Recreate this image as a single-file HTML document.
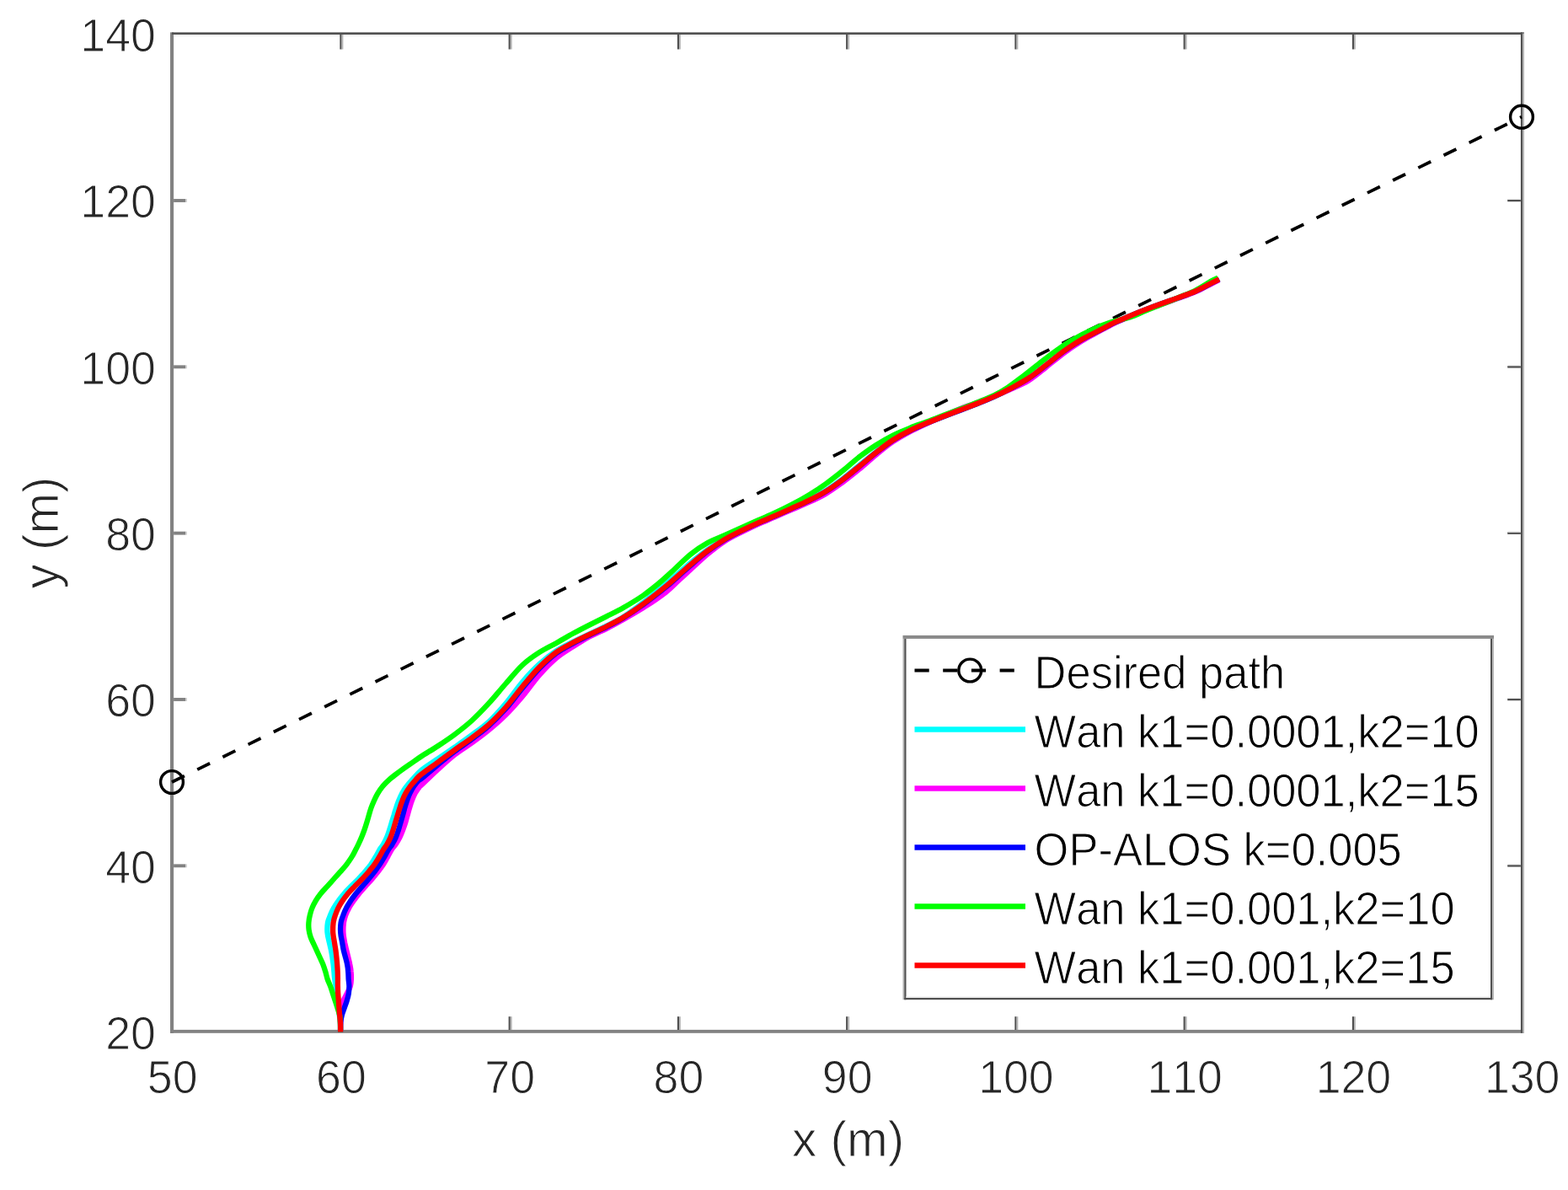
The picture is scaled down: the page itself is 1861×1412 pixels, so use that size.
<!DOCTYPE html>
<html lang="en">
<head>
<meta charset="utf-8">
<title>Path following comparison</title>
<style>
html,body{margin:0;padding:0;background:#fff;}
body{width:1861px;height:1412px;overflow:hidden;}
svg{display:block;}
text{font-family:"Liberation Sans",Arial,Helvetica,sans-serif;fill:#262626;font-kerning:none;font-variant-ligatures:none;stroke:#fff;stroke-width:1.0px;stroke-linejoin:round;}
.tk{font-size:53.7px;}
.lb{font-size:58.5px;}
text.lg{font-size:52.5px;fill:#000;}
</style>
</head>
<body>
<svg width="1861" height="1412" viewBox="0 0 1861 1412">
<rect x="0" y="0" width="1861" height="1412" fill="#ffffff"/>
<g>
<rect x="202.00" y="38.40" width="4.10" height="1187.60" fill="#828282"/><rect x="202.00" y="1221.90" width="1607.00" height="3.90" fill="#828282"/><rect x="204.00" y="38.40" width="1605.00" height="2.60" fill="#505050"/><rect x="206.10" y="41.00" width="1599.00" height="1.90" fill="#ededed"/><rect x="1804.90" y="38.40" width="2.20" height="1187.40" fill="#505050"/><rect x="1807.10" y="39.50" width="1.90" height="1186.30" fill="#b4b4b4"/>
<rect x="403.35" y="1206.20" width="2.20" height="15.80" fill="#505050"/><rect x="405.55" y="1206.20" width="1.80" height="15.80" fill="#b4b4b4"/><rect x="403.35" y="41.00" width="2.20" height="17.50" fill="#505050"/><rect x="405.55" y="41.00" width="1.80" height="17.50" fill="#b4b4b4"/><rect x="603.60" y="1206.20" width="2.20" height="15.80" fill="#505050"/><rect x="605.80" y="1206.20" width="1.80" height="15.80" fill="#b4b4b4"/><rect x="603.60" y="41.00" width="2.20" height="17.50" fill="#505050"/><rect x="605.80" y="41.00" width="1.80" height="17.50" fill="#b4b4b4"/><rect x="803.85" y="1206.20" width="2.20" height="15.80" fill="#505050"/><rect x="806.05" y="1206.20" width="1.80" height="15.80" fill="#b4b4b4"/><rect x="803.85" y="41.00" width="2.20" height="17.50" fill="#505050"/><rect x="806.05" y="41.00" width="1.80" height="17.50" fill="#b4b4b4"/><rect x="1004.10" y="1206.20" width="2.20" height="15.80" fill="#505050"/><rect x="1006.30" y="1206.20" width="1.80" height="15.80" fill="#b4b4b4"/><rect x="1004.10" y="41.00" width="2.20" height="17.50" fill="#505050"/><rect x="1006.30" y="41.00" width="1.80" height="17.50" fill="#b4b4b4"/><rect x="1204.35" y="1206.20" width="2.20" height="15.80" fill="#505050"/><rect x="1206.55" y="1206.20" width="1.80" height="15.80" fill="#b4b4b4"/><rect x="1204.35" y="41.00" width="2.20" height="17.50" fill="#505050"/><rect x="1206.55" y="41.00" width="1.80" height="17.50" fill="#b4b4b4"/><rect x="1404.60" y="1206.20" width="2.20" height="15.80" fill="#505050"/><rect x="1406.80" y="1206.20" width="1.80" height="15.80" fill="#b4b4b4"/><rect x="1404.60" y="41.00" width="2.20" height="17.50" fill="#505050"/><rect x="1406.80" y="41.00" width="1.80" height="17.50" fill="#b4b4b4"/><rect x="1604.85" y="1206.20" width="2.20" height="15.80" fill="#505050"/><rect x="1607.05" y="1206.20" width="1.80" height="15.80" fill="#b4b4b4"/><rect x="1604.85" y="41.00" width="2.20" height="17.50" fill="#505050"/><rect x="1607.05" y="41.00" width="1.80" height="17.50" fill="#b4b4b4"/>
<rect x="206.10" y="1025.37" width="14.20" height="3.90" fill="#828282"/><rect x="220.30" y="1025.37" width="1.50" height="3.90" fill="#c8c8c8"/><rect x="1789.20" y="1026.17" width="15.70" height="2.40" fill="#505050"/><rect x="1790.00" y="1024.77" width="14.90" height="1.40" fill="#ededed"/><rect x="206.10" y="828.03" width="14.20" height="3.90" fill="#828282"/><rect x="220.30" y="828.03" width="1.50" height="3.90" fill="#c8c8c8"/><rect x="1789.20" y="828.83" width="15.70" height="2.40" fill="#505050"/><rect x="1790.00" y="827.43" width="14.90" height="1.40" fill="#ededed"/><rect x="206.10" y="630.70" width="14.20" height="3.90" fill="#828282"/><rect x="220.30" y="630.70" width="1.50" height="3.90" fill="#c8c8c8"/><rect x="1789.20" y="631.50" width="15.70" height="2.40" fill="#505050"/><rect x="1790.00" y="630.10" width="14.90" height="1.40" fill="#ededed"/><rect x="206.10" y="433.37" width="14.20" height="3.90" fill="#828282"/><rect x="220.30" y="433.37" width="1.50" height="3.90" fill="#c8c8c8"/><rect x="1789.20" y="434.17" width="15.70" height="2.40" fill="#505050"/><rect x="1790.00" y="432.77" width="14.90" height="1.40" fill="#ededed"/><rect x="206.10" y="236.03" width="14.20" height="3.90" fill="#828282"/><rect x="220.30" y="236.03" width="1.50" height="3.90" fill="#c8c8c8"/><rect x="1789.20" y="236.83" width="15.70" height="2.40" fill="#505050"/><rect x="1790.00" y="235.43" width="14.90" height="1.40" fill="#ededed"/>
</g>
<g fill="none" stroke-width="6.3" stroke-linejoin="round" stroke-linecap="butt">
<path d="M204.0 928.0L1806.0 138.7" stroke="#000" stroke-width="3.8" stroke-dasharray="16.65 17.005"/>
<path d="M404.1 1224.5C404.0 1222.6 404.0 1216.5 403.7 1213.2C403.5 1209.9 403.1 1207.5 402.8 1204.6C402.5 1201.7 402.3 1198.9 402.0 1196.0C401.7 1193.1 401.5 1190.3 401.1 1187.4C400.8 1184.5 400.4 1181.7 400.0 1178.8C399.5 1175.9 399.1 1173.1 398.6 1170.2C398.1 1167.3 397.5 1164.5 397.2 1161.6C396.8 1158.7 396.7 1155.9 396.4 1153.0C396.2 1150.1 395.9 1147.3 395.6 1144.4C395.2 1141.5 394.8 1138.7 394.4 1135.8C393.9 1132.9 393.5 1130.1 392.9 1127.2C392.3 1124.3 391.7 1122.0 390.9 1118.6C390.2 1115.2 388.8 1110.6 388.5 1106.6C388.2 1102.6 388.4 1098.0 389.0 1094.6C389.6 1091.2 390.8 1088.9 392.0 1086.0C393.2 1083.1 394.4 1080.3 396.1 1077.4C397.7 1074.5 399.6 1071.7 401.7 1068.8C403.7 1065.9 406.0 1063.1 408.5 1060.2C411.0 1057.3 413.8 1054.5 416.7 1051.6C419.5 1048.7 422.6 1045.9 425.4 1043.0C428.1 1040.1 430.7 1037.3 433.2 1034.4C435.6 1031.5 438.0 1028.7 440.1 1025.8C442.1 1022.9 443.8 1020.1 445.5 1017.2C447.3 1014.3 448.8 1011.2 450.3 1008.6C451.9 1006.0 453.4 1004.4 454.9 1001.8C456.4 999.2 458.0 996.1 459.2 993.2C460.4 990.3 461.3 987.5 462.2 984.6C463.2 981.7 464.0 978.9 464.8 976.0C465.7 973.1 466.6 970.3 467.5 967.4C468.3 964.5 469.1 961.7 470.1 958.8C471.0 955.9 471.9 953.1 473.1 950.2C474.3 947.3 475.5 944.5 477.0 941.6C478.6 938.7 480.5 935.7 482.6 933.0C484.6 930.3 486.4 928.4 489.3 925.2C492.2 922.0 494.9 918.1 500.0 913.9C505.1 909.7 513.3 904.7 520.0 900.1C526.7 895.6 533.3 891.1 540.0 886.4C546.7 881.7 553.3 877.1 560.0 872.1C566.7 867.1 573.3 862.7 580.0 856.5C586.7 850.3 593.3 842.9 600.0 835.0C606.7 827.2 613.3 817.0 620.0 809.2C626.7 801.4 633.3 794.3 640.0 788.2C646.7 782.1 653.3 776.9 660.0 772.5C666.7 768.1 673.3 764.9 680.0 761.6C686.7 758.2 693.3 755.4 700.0 752.2C706.7 749.1 713.3 746.0 720.0 742.7C726.7 739.3 732.5 736.7 740.0 731.9C747.5 727.1 756.7 720.1 765.0 713.7C773.3 707.3 783.3 698.8 790.0 693.3C796.7 687.8 800.0 684.7 805.0 680.4C810.0 676.1 814.2 672.1 820.0 667.4C825.8 662.7 833.3 656.7 840.0 652.0C846.7 647.3 853.3 643.1 860.0 639.2C866.7 635.4 873.3 632.2 880.0 629.0C886.7 625.8 893.3 622.8 900.0 619.9C906.7 616.9 913.3 614.2 920.0 611.3C926.7 608.4 933.3 605.5 940.0 602.5C946.7 599.5 953.3 596.5 960.0 593.1C966.7 589.8 973.3 586.4 980.0 582.2C986.7 578.0 993.3 573.2 1000.0 568.2C1006.7 563.1 1013.3 557.4 1020.0 552.0C1026.7 546.6 1033.3 541.0 1040.0 535.9C1046.7 530.8 1053.3 525.6 1060.0 521.4C1066.7 517.2 1073.3 513.8 1080.0 510.5C1086.7 507.2 1093.3 504.6 1100.0 501.9C1106.7 499.1 1113.3 496.6 1120.0 494.0C1126.7 491.4 1133.3 488.9 1140.0 486.4C1146.7 483.9 1153.3 481.4 1160.0 478.8C1166.7 476.2 1173.3 473.5 1180.0 470.5C1186.7 467.5 1193.1 464.3 1200.0 460.6C1206.9 456.9 1214.2 453.1 1221.2 448.5C1228.2 443.9 1235.1 438.1 1242.0 432.8C1248.9 427.5 1255.8 421.5 1262.8 416.5C1269.8 411.5 1276.8 407.0 1284.0 402.8C1291.2 398.6 1299.4 394.8 1305.7 391.5C1312.0 388.2 1316.3 385.7 1322.0 383.0C1327.7 380.3 1333.6 378.0 1339.6 375.5C1345.6 373.0 1351.6 370.4 1358.0 367.9C1364.4 365.4 1371.2 362.9 1377.9 360.5C1384.6 358.1 1391.2 355.9 1398.0 353.4C1404.8 350.9 1412.2 348.5 1419.0 345.5C1425.8 342.5 1433.8 337.9 1438.5 335.5C1443.2 333.1 1445.6 332.0 1447.0 331.3" stroke="#00ffff"/>
<path d="M404.1 1224.5C404.1 1222.6 404.2 1216.5 404.2 1213.2C404.3 1209.9 404.2 1207.5 404.4 1204.6C404.5 1201.7 404.7 1198.9 405.2 1196.0C405.7 1193.1 406.3 1190.3 407.4 1187.4C408.5 1184.5 410.4 1181.7 411.8 1178.8C413.2 1175.9 414.9 1173.1 415.8 1170.2C416.7 1167.3 416.8 1164.5 416.9 1161.6C417.0 1158.7 416.9 1155.9 416.6 1153.0C416.4 1150.1 415.9 1147.3 415.3 1144.4C414.8 1141.5 414.0 1138.7 413.3 1135.8C412.6 1132.9 411.9 1130.1 411.2 1127.2C410.5 1124.3 409.9 1122.0 409.2 1118.6C408.6 1115.2 407.7 1110.6 407.5 1106.6C407.3 1102.6 407.6 1098.0 408.0 1094.6C408.5 1091.2 409.2 1088.9 410.2 1086.0C411.2 1083.1 412.6 1080.3 414.2 1077.4C415.7 1074.5 417.8 1071.7 419.8 1068.8C421.8 1065.9 423.9 1063.1 426.2 1060.2C428.5 1057.3 431.2 1054.5 433.8 1051.6C436.4 1048.7 439.2 1045.9 441.6 1043.0C444.1 1040.1 446.4 1037.3 448.7 1034.4C450.9 1031.5 453.0 1028.7 454.9 1025.8C456.7 1022.9 458.2 1020.1 459.9 1017.2C461.5 1014.3 462.9 1011.2 464.5 1008.6C466.1 1006.0 468.0 1004.4 469.7 1001.8C471.4 999.2 473.3 996.1 474.7 993.2C476.1 990.3 477.1 987.5 478.2 984.6C479.3 981.7 480.3 978.9 481.2 976.0C482.1 973.1 482.8 970.3 483.6 967.4C484.4 964.5 485.1 961.7 486.0 958.8C486.9 955.9 487.7 953.1 488.8 950.2C489.9 947.3 491.0 944.5 492.5 941.6C494.1 938.7 496.2 935.7 498.3 933.0C500.4 930.3 505.0 925.4 505.3 925.2C505.6 925.0 497.5 933.7 500.0 931.7C502.5 929.6 513.3 918.8 520.0 912.7C526.7 906.6 533.3 900.5 540.0 895.3C546.7 890.1 553.3 886.3 560.0 881.5C566.7 876.7 573.3 871.9 580.0 866.4C586.7 860.9 593.3 855.3 600.0 848.6C606.7 842.0 613.3 834.4 620.0 826.5C626.7 818.6 633.3 808.8 640.0 801.2C646.7 793.6 653.3 786.7 660.0 781.1C666.7 775.5 673.3 771.7 680.0 767.4C686.7 763.1 693.3 758.9 700.0 755.3C706.7 751.7 713.3 749.1 720.0 745.8C726.7 742.4 732.5 739.2 740.0 735.0C747.5 730.8 756.7 725.6 765.0 720.2C773.3 714.9 783.3 708.1 790.0 702.9C796.7 697.7 800.0 693.8 805.0 689.2C810.0 684.7 814.2 680.8 820.0 675.5C825.8 670.2 833.3 663.0 840.0 657.4C846.7 651.9 853.3 646.6 860.0 642.3C866.7 638.0 873.3 634.9 880.0 631.5C886.7 628.1 893.3 624.9 900.0 621.9C906.7 618.9 913.3 616.2 920.0 613.3C926.7 610.4 933.3 607.4 940.0 604.5C946.7 601.6 953.3 599.1 960.0 596.0C966.7 593.0 973.3 590.0 980.0 586.0C986.7 582.0 993.3 577.2 1000.0 572.4C1006.7 567.5 1013.3 562.1 1020.0 556.6C1026.7 551.1 1033.3 544.9 1040.0 539.5C1046.7 534.1 1053.3 528.5 1060.0 524.0C1066.7 519.5 1073.3 515.8 1080.0 512.2C1086.7 508.7 1093.3 505.8 1100.0 502.7C1106.7 499.6 1113.3 496.6 1120.0 493.7C1126.7 490.8 1133.3 487.7 1140.0 485.0C1146.7 482.3 1153.3 480.2 1160.0 477.7C1166.7 475.1 1173.3 472.4 1180.0 469.7C1186.7 467.0 1193.1 464.7 1200.0 461.6C1206.9 458.5 1214.2 455.7 1221.2 451.3C1228.2 446.9 1235.1 440.8 1242.0 435.4C1248.9 430.0 1255.8 424.1 1262.8 418.9C1269.8 413.8 1276.8 408.9 1284.0 404.5C1291.2 400.1 1299.4 396.1 1305.7 392.6C1312.0 389.2 1316.3 386.7 1322.0 383.9C1327.7 381.2 1333.6 378.8 1339.6 376.2C1345.6 373.7 1351.6 371.0 1358.0 368.5C1364.4 366.0 1371.2 363.6 1377.9 361.2C1384.6 358.8 1391.2 356.6 1398.0 354.1C1404.8 351.6 1412.2 349.2 1419.0 346.2C1425.8 343.3 1433.8 338.6 1438.5 336.3C1443.2 333.9 1445.6 332.8 1447.0 332.1" stroke="#ff00ff"/>
<path d="M404.1 1224.5C404.1 1222.6 404.0 1216.5 404.3 1213.2C404.6 1209.9 405.0 1207.5 405.8 1204.6C406.5 1201.7 407.7 1198.9 408.7 1196.0C409.7 1193.1 410.9 1190.3 411.7 1187.4C412.6 1184.5 413.4 1181.7 413.8 1178.8C414.3 1175.9 414.4 1173.1 414.4 1170.2C414.4 1167.3 413.8 1164.5 413.6 1161.6C413.5 1158.7 413.5 1155.9 413.2 1153.0C413.0 1150.1 412.7 1147.3 412.1 1144.4C411.6 1141.5 410.7 1138.7 410.0 1135.8C409.2 1132.9 408.3 1130.1 407.7 1127.2C407.1 1124.3 406.8 1122.0 406.2 1118.6C405.6 1115.2 404.4 1110.6 404.2 1106.6C403.9 1102.6 404.1 1098.0 404.6 1094.6C405.1 1091.2 406.2 1088.9 407.3 1086.0C408.3 1083.1 409.5 1080.3 411.0 1077.4C412.4 1074.5 414.3 1071.7 416.2 1068.8C418.1 1065.9 420.2 1063.1 422.5 1060.2C424.8 1057.3 427.5 1054.5 430.0 1051.6C432.5 1048.7 435.1 1045.9 437.5 1043.0C439.9 1040.1 442.3 1037.3 444.5 1034.4C446.6 1031.5 448.7 1028.7 450.7 1025.8C452.6 1022.9 454.3 1020.1 456.0 1017.2C457.7 1014.3 459.1 1011.2 460.7 1008.6C462.3 1006.0 463.9 1004.4 465.5 1001.8C467.0 999.2 468.7 996.1 469.9 993.2C471.2 990.3 472.0 987.5 473.0 984.6C473.9 981.7 474.7 978.9 475.5 976.0C476.4 973.1 477.2 970.3 478.0 967.4C478.8 964.5 479.5 961.7 480.3 958.8C481.1 955.9 482.0 953.1 483.0 950.2C484.0 947.3 484.9 944.5 486.3 941.6C487.7 938.7 489.3 935.7 491.2 933.0C493.1 930.3 496.0 926.7 497.5 925.2C499.0 923.7 496.3 927.1 500.0 924.1C503.7 921.1 513.3 912.7 520.0 907.2C526.7 901.7 533.3 896.2 540.0 891.2C546.7 886.2 553.3 881.9 560.0 876.9C566.7 871.9 573.3 867.2 580.0 861.3C586.7 855.3 593.3 848.6 600.0 841.2C606.7 833.8 613.3 824.7 620.0 816.7C626.7 808.7 633.3 800.3 640.0 793.4C646.7 786.5 653.3 780.3 660.0 775.3C666.7 770.3 673.3 767.2 680.0 763.5C686.7 759.8 693.3 756.6 700.0 753.3C706.7 750.0 713.3 747.1 720.0 743.8C726.7 740.4 732.5 737.6 740.0 733.0C747.5 728.4 756.7 722.3 765.0 716.2C773.3 710.2 783.3 702.3 790.0 696.9C796.7 691.5 800.0 688.1 805.0 683.8C810.0 679.4 814.2 675.4 820.0 670.5C825.8 665.6 833.3 659.1 840.0 654.1C846.7 649.1 853.3 644.6 860.0 640.6C866.7 636.6 873.3 633.3 880.0 630.0C886.7 626.7 893.3 623.7 900.0 620.7C906.7 617.7 913.3 615.0 920.0 612.1C926.7 609.2 933.3 606.2 940.0 603.2C946.7 600.2 953.3 597.4 960.0 594.1C966.7 590.8 973.3 587.5 980.0 583.4C986.7 579.3 993.3 574.5 1000.0 569.5C1006.7 564.5 1013.3 558.9 1020.0 553.5C1026.7 548.1 1033.3 542.3 1040.0 537.1C1046.7 531.9 1053.3 526.6 1060.0 522.3C1066.7 517.9 1073.3 514.4 1080.0 511.1C1086.7 507.7 1093.3 505.0 1100.0 502.2C1106.7 499.4 1113.3 496.8 1120.0 494.3C1126.7 491.7 1133.3 489.2 1140.0 486.7C1146.7 484.1 1153.3 481.7 1160.0 479.1C1166.7 476.4 1173.3 473.8 1180.0 470.7C1186.7 467.7 1193.1 464.5 1200.0 460.8C1206.9 457.2 1214.2 453.4 1221.2 448.7C1228.2 444.1 1235.1 438.4 1242.0 433.0C1248.9 427.7 1255.8 421.7 1262.8 416.7C1269.8 411.7 1276.8 407.2 1284.0 403.0C1291.2 398.9 1299.4 395.0 1305.7 391.7C1312.0 388.4 1316.3 385.9 1322.0 383.2C1327.7 380.6 1333.6 378.2 1339.6 375.7C1345.6 373.2 1351.6 370.6 1358.0 368.1C1364.4 365.6 1371.2 363.1 1377.9 360.7C1384.6 358.3 1391.2 356.1 1398.0 353.6C1404.8 351.1 1412.2 348.7 1419.0 345.7C1425.8 342.7 1433.8 338.1 1438.5 335.7C1443.2 333.3 1445.6 332.2 1447.0 331.5" stroke="#0000ff"/>
<path d="M404.1 1224.5C404.1 1222.6 404.1 1216.5 403.9 1213.2C403.7 1209.9 404.0 1208.4 403.1 1204.6C402.2 1200.8 400.1 1194.6 398.7 1190.3C397.3 1186.0 396.0 1182.2 394.9 1178.8C393.8 1175.4 393.2 1173.1 392.1 1170.2C391.1 1167.3 389.6 1164.5 388.6 1161.6C387.6 1158.7 387.2 1155.9 386.3 1153.0C385.4 1150.1 384.5 1147.3 383.4 1144.4C382.3 1141.5 380.8 1138.7 379.5 1135.8C378.2 1132.9 376.9 1130.1 375.6 1127.2C374.3 1124.3 372.8 1121.2 371.6 1118.6C370.4 1116.0 369.4 1114.4 368.6 1111.8C367.8 1109.2 367.0 1106.1 366.6 1103.2C366.2 1100.3 366.2 1097.5 366.4 1094.6C366.6 1091.7 367.1 1088.9 367.8 1086.0C368.5 1083.1 369.2 1080.3 370.4 1077.4C371.5 1074.5 373.0 1071.7 374.7 1068.8C376.4 1065.9 378.4 1063.1 380.7 1060.2C383.0 1057.3 385.9 1054.5 388.5 1051.6C391.1 1048.7 393.6 1045.9 396.2 1043.0C398.8 1040.1 401.4 1037.3 403.9 1034.4C406.4 1031.5 409.1 1028.7 411.3 1025.8C413.5 1022.9 415.5 1020.1 417.3 1017.2C419.1 1014.3 420.6 1011.2 422.0 1008.6C423.4 1006.0 424.2 1004.4 425.4 1001.8C426.6 999.2 428.0 996.1 429.2 993.2C430.4 990.3 431.5 987.5 432.5 984.6C433.5 981.7 434.4 978.9 435.3 976.0C436.2 973.1 437.0 970.3 437.8 967.4C438.6 964.5 439.4 961.7 440.4 958.8C441.4 955.9 442.6 953.1 443.9 950.2C445.2 947.3 446.5 944.5 448.2 941.6C449.9 938.7 451.8 935.9 454.2 933.0C456.6 930.1 459.5 927.3 462.8 924.4C466.1 921.5 470.0 918.7 473.9 915.8C477.8 912.9 481.6 910.2 486.0 907.2C490.4 904.2 494.3 901.2 500.0 897.5C505.7 893.8 513.3 889.4 520.0 885.0C526.7 880.6 533.3 876.2 540.0 871.2C546.7 866.2 553.3 861.1 560.0 855.0C566.7 848.9 573.3 842.0 580.0 834.7C586.7 827.5 593.3 819.1 600.0 811.5C606.7 803.9 613.3 795.4 620.0 789.2C626.7 783.0 633.3 778.5 640.0 774.2C646.7 769.9 653.3 766.9 660.0 763.2C666.7 759.5 673.3 755.4 680.0 751.8C686.7 748.2 693.3 744.8 700.0 741.4C706.7 738.0 713.3 734.8 720.0 731.4C726.7 728.0 733.0 725.0 740.0 721.0C747.0 717.0 755.0 712.3 762.0 707.5C769.0 702.7 775.6 697.4 782.1 692.0C788.6 686.6 794.7 680.8 801.0 675.0C807.3 669.2 813.5 662.7 820.0 657.5C826.5 652.3 833.3 647.7 840.0 644.0C846.7 640.3 853.3 638.2 860.0 635.2C866.7 632.2 873.3 629.2 880.0 626.2C886.7 623.2 893.3 620.2 900.0 617.2C906.7 614.2 913.3 611.5 920.0 608.4C926.7 605.3 933.3 602.1 940.0 598.6C946.7 595.1 953.3 591.5 960.0 587.4C966.7 583.3 973.3 579.0 980.0 574.2C986.7 569.4 993.3 564.1 1000.0 558.8C1006.7 553.4 1013.3 547.2 1020.0 542.1C1026.7 537.0 1033.3 532.2 1040.0 528.0C1046.7 523.8 1053.3 520.0 1060.0 516.6C1066.7 513.2 1073.3 510.5 1080.0 507.8C1086.7 505.1 1093.3 503.0 1100.0 500.5C1106.7 498.0 1113.3 495.4 1120.0 492.8C1126.7 490.2 1133.3 487.8 1140.0 485.2C1146.7 482.6 1153.3 480.1 1160.0 477.4C1166.7 474.7 1174.0 471.9 1180.0 469.0C1186.0 466.1 1190.8 463.2 1196.0 459.8C1201.2 456.4 1205.5 453.1 1211.5 448.5C1217.5 443.9 1225.1 437.7 1232.0 432.4C1238.9 427.1 1245.9 421.5 1252.9 416.5C1259.9 411.5 1266.9 406.8 1274.0 402.6C1281.1 398.4 1288.1 394.8 1295.4 391.5C1302.7 388.2 1310.4 385.1 1318.0 382.6C1325.6 380.1 1334.0 378.8 1341.0 376.5C1348.0 374.2 1353.7 371.2 1360.0 368.6C1366.3 366.1 1372.5 363.8 1379.0 361.2C1385.5 358.6 1392.3 355.8 1399.0 353.0C1405.7 350.2 1412.7 347.7 1419.0 344.5C1425.3 341.3 1432.6 336.3 1437.0 333.8C1441.4 331.3 1444.2 330.3 1445.6 329.6" stroke="#00ff00"/>
<path d="M404.1 1224.5C404.1 1222.6 404.1 1216.5 403.9 1213.2C403.7 1209.9 403.4 1207.5 403.1 1204.6C402.9 1201.7 402.6 1198.9 402.4 1196.0C402.2 1193.1 402.0 1190.3 401.8 1187.4C401.6 1184.5 401.4 1181.7 401.2 1178.8C401.0 1175.9 400.9 1173.1 400.9 1170.2C400.8 1167.3 400.9 1164.5 400.9 1161.6C400.9 1158.7 400.8 1155.9 400.7 1153.0C400.6 1150.1 400.4 1147.3 400.2 1144.4C400.0 1141.5 399.7 1138.7 399.4 1135.8C399.1 1132.9 398.8 1130.1 398.4 1127.2C398.0 1124.3 397.5 1122.0 397.0 1118.6C396.5 1115.2 395.4 1110.6 395.2 1106.6C395.0 1102.6 395.2 1098.0 395.6 1094.6C396.1 1091.2 396.9 1088.9 397.9 1086.0C398.9 1083.1 400.0 1080.3 401.4 1077.4C402.8 1074.5 404.6 1071.7 406.5 1068.8C408.4 1065.9 410.6 1063.1 413.0 1060.2C415.4 1057.3 418.3 1054.5 421.1 1051.6C423.9 1048.7 427.0 1045.9 429.7 1043.0C432.4 1040.1 435.1 1037.3 437.5 1034.4C439.9 1031.5 442.3 1028.7 444.4 1025.8C446.5 1022.9 448.2 1020.1 449.9 1017.2C451.6 1014.3 453.1 1011.2 454.7 1008.6C456.3 1006.0 457.8 1004.4 459.3 1001.8C460.8 999.2 462.4 996.1 463.6 993.2C464.8 990.3 465.7 987.5 466.6 984.6C467.5 981.7 468.3 978.9 469.2 976.0C470.1 973.1 470.9 970.3 471.8 967.4C472.7 964.5 473.5 961.7 474.4 958.8C475.3 955.9 476.2 953.1 477.4 950.2C478.5 947.3 479.7 944.5 481.3 941.6C482.9 938.7 484.8 935.7 486.8 933.0C488.8 930.3 491.3 927.6 493.5 925.2C495.7 922.8 495.6 922.3 500.0 918.8C504.4 915.3 513.3 909.1 520.0 904.2C526.7 899.3 533.3 894.4 540.0 889.6C546.7 884.8 553.3 880.4 560.0 875.4C566.7 870.4 573.3 865.9 580.0 859.9C586.7 853.9 593.3 847.0 600.0 839.5C606.7 832.0 613.3 822.7 620.0 814.7C626.7 806.8 633.3 798.6 640.0 791.8C646.7 785.0 653.3 779.0 660.0 774.1C666.7 769.2 673.3 766.2 680.0 762.6C686.7 759.0 693.3 755.9 700.0 752.7C706.7 749.5 713.3 746.6 720.0 743.2C726.7 739.8 732.5 737.1 740.0 732.5C747.5 727.9 756.7 721.6 765.0 715.5C773.3 709.4 783.3 701.4 790.0 695.9C796.7 690.4 800.0 687.2 805.0 682.8C810.0 678.4 814.2 674.5 820.0 669.6C825.8 664.7 833.3 658.3 840.0 653.4C846.7 648.5 853.3 644.1 860.0 640.1C866.7 636.1 873.3 632.9 880.0 629.6C886.7 626.3 893.3 623.4 900.0 620.4C906.7 617.4 913.3 614.7 920.0 611.8C926.7 608.9 933.3 605.9 940.0 602.9C946.7 599.9 953.3 597.1 960.0 593.8C966.7 590.5 973.3 587.2 980.0 583.1C986.7 579.0 993.3 574.2 1000.0 569.2C1006.7 564.2 1013.3 558.6 1020.0 553.2C1026.7 547.8 1033.3 542.0 1040.0 536.8C1046.7 531.6 1053.3 526.3 1060.0 522.0C1066.7 517.7 1073.3 514.1 1080.0 510.8C1086.7 507.4 1093.3 504.7 1100.0 501.9C1106.7 499.1 1113.3 496.6 1120.0 494.0C1126.7 491.4 1133.3 488.9 1140.0 486.4C1146.7 483.9 1153.3 481.4 1160.0 478.8C1166.7 476.2 1173.3 473.5 1180.0 470.5C1186.7 467.5 1193.1 464.3 1200.0 460.6C1206.9 456.9 1214.2 453.1 1221.2 448.5C1228.2 443.9 1235.1 438.1 1242.0 432.8C1248.9 427.5 1255.8 421.5 1262.8 416.5C1269.8 411.5 1276.8 407.0 1284.0 402.8C1291.2 398.6 1299.4 394.8 1305.7 391.5C1312.0 388.2 1316.3 385.7 1322.0 383.0C1327.7 380.3 1333.6 378.0 1339.6 375.5C1345.6 373.0 1351.6 370.4 1358.0 367.9C1364.4 365.4 1371.2 362.9 1377.9 360.5C1384.6 358.1 1391.2 355.9 1398.0 353.4C1404.8 350.9 1412.2 348.5 1419.0 345.5C1425.8 342.5 1433.8 337.9 1438.5 335.5C1443.2 333.1 1445.6 332.0 1447.0 331.3" stroke="#ff0000"/>
</g>
<circle cx="204.0" cy="928.0" r="13.4" fill="none" stroke="#000" stroke-width="3.4"/>
<circle cx="1806.0" cy="138.7" r="13.4" fill="none" stroke="#000" stroke-width="3.4"/>
<g>
<text class="tk" text-anchor="middle" transform="translate(204.70 1296.80) scale(1 1.020)">50</text>
<text class="tk" text-anchor="middle" transform="translate(404.95 1296.80) scale(1 1.020)">60</text>
<text class="tk" text-anchor="middle" transform="translate(605.20 1296.80) scale(1 1.020)">70</text>
<text class="tk" text-anchor="middle" transform="translate(805.45 1296.80) scale(1 1.020)">80</text>
<text class="tk" text-anchor="middle" transform="translate(1005.70 1296.80) scale(1 1.020)">90</text>
<text class="tk" text-anchor="middle" transform="translate(1205.95 1296.80) scale(1 1.020)">100</text>
<text class="tk" text-anchor="middle" transform="translate(1406.20 1296.80) scale(1 1.020)">110</text>
<text class="tk" text-anchor="middle" transform="translate(1606.45 1296.80) scale(1 1.020)">120</text>
<text class="tk" text-anchor="middle" transform="translate(1806.70 1296.80) scale(1 1.020)">130</text>
<text class="tk" text-anchor="end" transform="translate(184.90 1244.90) scale(1 1.020)">20</text>
<text class="tk" text-anchor="end" transform="translate(184.90 1047.57) scale(1 1.020)">40</text>
<text class="tk" text-anchor="end" transform="translate(184.90 850.23) scale(1 1.020)">60</text>
<text class="tk" text-anchor="end" transform="translate(184.90 652.90) scale(1 1.020)">80</text>
<text class="tk" text-anchor="end" transform="translate(184.90 455.57) scale(1 1.020)">100</text>
<text class="tk" text-anchor="end" transform="translate(184.90 258.23) scale(1 1.020)">120</text>
<text class="tk" text-anchor="end" transform="translate(184.90 60.90) scale(1 1.020)">140</text>
</g>
<text class="lb" text-anchor="middle" transform="translate(1006.70 1372.00)">x (m)</text>
<text class="lb" text-anchor="middle" transform="translate(68.80 632.00) rotate(-90)">y (m)</text>
<rect x="1071.50" y="753.90" width="701.50" height="432.30" fill="#ffffff"/><rect x="1071.50" y="753.90" width="701.50" height="4.00" fill="#8a8a8a"/><rect x="1071.50" y="757.90" width="1.80" height="428.30" fill="#b4b4b4"/><rect x="1073.30" y="757.90" width="2.20" height="428.30" fill="#505050"/><rect x="1769.00" y="757.90" width="2.20" height="428.30" fill="#505050"/><rect x="1771.20" y="757.90" width="1.80" height="428.30" fill="#b4b4b4"/><rect x="1073.30" y="1184.00" width="697.90" height="2.20" fill="#505050"/><rect x="1075.50" y="1182.20" width="693.50" height="1.80" fill="#ededed"/>
<g fill="none" stroke-width="6.3">
<path d="M1085.5 795.5H1217" stroke="#000" stroke-width="3.8" stroke-dasharray="17.2 16.5"/>
<circle cx="1151.25" cy="795.5" r="13.4" stroke="#000" stroke-width="3.4"/>
<path d="M1085.5 865.5H1217" stroke="#00ffff"/>
<path d="M1085.5 935.5H1217" stroke="#ff00ff"/>
<path d="M1085.5 1005.5H1217" stroke="#0000ff"/>
<path d="M1085.5 1075.5H1217" stroke="#00ff00"/>
<path d="M1085.5 1145.5H1217" stroke="#ff0000"/>
</g>
<g>
<text class="lg" transform="translate(1227.60 816.90) scale(1 1.040)">Desired path</text>
<text class="lg" transform="translate(1227.60 886.90) scale(1 1.040)">Wan k1=0.0001,k2=10</text>
<text class="lg" transform="translate(1227.60 956.90) scale(1 1.040)">Wan k1=0.0001,k2=15</text>
<text class="lg" transform="translate(1227.60 1026.90) scale(1 1.040)">OP-ALOS k=0.005</text>
<text class="lg" transform="translate(1227.60 1096.90) scale(1 1.040)">Wan k1=0.001,k2=10</text>
<text class="lg" transform="translate(1227.60 1166.90) scale(1 1.040)">Wan k1=0.001,k2=15</text>
</g>
</svg>
</body>
</html>
